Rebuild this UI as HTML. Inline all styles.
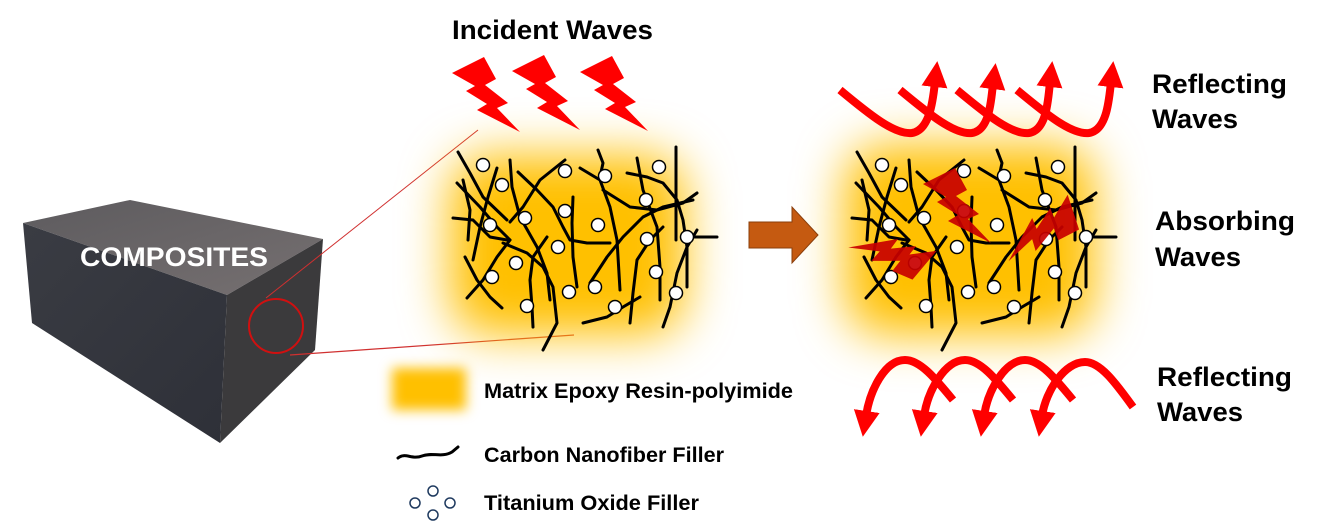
<!DOCTYPE html>
<html><head><meta charset="utf-8"><style>
html,body{margin:0;padding:0;background:#fff}
svg{display:block}
text{font-family:"Liberation Sans",Arial,sans-serif;font-weight:bold}
</style></head><body>
<svg width="1328" height="531" viewBox="0 0 1328 531" xmlns="http://www.w3.org/2000/svg">
<defs>
<filter id="blur" x="-50%" y="-50%" width="200%" height="200%"><feGaussianBlur stdDeviation="24"/></filter>
<filter id="blur2" x="-50%" y="-50%" width="200%" height="200%"><feGaussianBlur stdDeviation="6"/></filter>
<linearGradient id="top" x1="0" y1="0" x2="1" y2="1"><stop offset="0" stop-color="#5d5b5e"/><stop offset="1" stop-color="#767071"/></linearGradient>
<linearGradient id="front" x1="0" y1="0" x2="1" y2="1"><stop offset="0" stop-color="#3a3c43"/><stop offset="1" stop-color="#2e3038"/></linearGradient>
<marker id="ah" markerWidth="30" markerHeight="30" refX="5" refY="15" orient="auto" markerUnits="userSpaceOnUse" viewBox="0 0 30 30"><path d="M0,2 L26,15 L0,28 Z" fill="#f00"/></marker>
<g id="fib" fill="none" stroke="#000" stroke-width="3" stroke-linecap="round" stroke-linejoin="round">
<polyline points="458,152 470,173 483,197 507,220"/>
<polyline points="457,183 480,207 497,227 510,240"/>
<polyline points="497,168 488,197 480,227 473,260"/>
<polyline points="453,218 473,220 490,237 507,240"/>
<polyline points="465,257 477,280 490,297 502,308"/>
<polyline points="467,298 483,280 497,257 510,240"/>
<polyline points="510,160 512,187 520,217 537,247 547,273 550,300"/>
<polyline points="518,172 537,190 553,207 563,227 570,240 587,243 610,243"/>
<polyline points="565,160 540,180 523,207 510,222"/>
<polyline points="573,197 572,223 573,257 577,287"/>
<polyline points="503,243 527,253 543,267 553,287 557,323 543,350"/>
<polyline points="547,237 533,257 530,280 532,307 533,327"/>
<polyline points="580,168 600,180 610,207 617,240 620,290"/>
<polyline points="598,150 603,163 600,177"/>
<polyline points="603,190 630,207 657,210 683,203 697,193"/>
<polyline points="590,283 607,257 623,237 643,217 663,207 693,200"/>
<polyline points="637,158 643,190 657,227 660,267 660,300"/>
<polyline points="627,173 647,177 663,183 677,200 683,220 687,247 687,287"/>
<polyline points="676,147 676,240"/>
<polyline points="583,323 607,317 623,307 640,297"/>
<polyline points="630,323 633,293 637,260 650,240 663,227"/>
<polyline points="663,327 670,307 677,273 687,247 697,230"/>
<polyline points="687,237 717,237"/>
<polyline points="463,180 470,210 468,240"/>
</g>
<g id="dots" fill="#fff" stroke="#000" stroke-width="1.5">
<circle cx="483" cy="165" r="6.5"/><circle cx="502" cy="185" r="6.5"/><circle cx="490" cy="225" r="6.5"/>
<circle cx="525" cy="218" r="6.5"/><circle cx="565" cy="171" r="6.5"/><circle cx="565" cy="211" r="6.5"/>
<circle cx="598" cy="225" r="6.5"/><circle cx="558" cy="247" r="6.5"/><circle cx="516" cy="263" r="6.5"/>
<circle cx="492" cy="277" r="6.5"/><circle cx="527" cy="306" r="6.5"/><circle cx="569" cy="292" r="6.5"/>
<circle cx="595" cy="287" r="6.5"/><circle cx="615" cy="307" r="6.5"/><circle cx="605" cy="176" r="6.5"/>
<circle cx="646" cy="200" r="6.5"/><circle cx="647" cy="239" r="6.5"/><circle cx="659" cy="167" r="6.5"/>
<circle cx="656" cy="272" r="6.5"/><circle cx="687" cy="237" r="6.5"/><circle cx="676" cy="293" r="6.5"/>
</g>
<path id="bolt" d="M0,16 L32,0 L44,22 L33,28 L56,46 L45,51 L68,75 L25,53 L35,47 L14,34 L23,29 Z"/>
</defs>

<!-- box -->
<polygon points="23,223 130,200 323,239 227,295" fill="url(#top)"/>
<polygon points="23,223 227,295 220,443 32,323" fill="url(#front)"/>
<polygon points="227,295 323,239 315,350 220,443" fill="#3b3a3c"/>
<text x="80" y="266" font-size="27" fill="#fff" textLength="188" lengthAdjust="spacingAndGlyphs">COMPOSITES</text>
<circle cx="276" cy="326" r="27" fill="none" stroke="#d01010" stroke-width="2"/>
<line x1="266" y1="298" x2="478" y2="130" stroke="#d03030" stroke-width="1"/>
<line x1="290" y1="355" x2="574" y2="335" stroke="#d03030" stroke-width="1.2"/>

<!-- glows -->
<rect x="450" y="155" width="235" height="180" rx="40" fill="#ffc000" filter="url(#blur)"/>
<rect x="845" y="145" width="250" height="190" rx="40" fill="#ffc000" filter="url(#blur)"/>

<use href="#fib"/><use href="#dots"/>
<g transform="translate(399,0)"><use href="#fib"/><use href="#dots"/></g>

<!-- incident bolts -->
<g fill="#ff0000">
<use href="#bolt" transform="translate(452,57)"/>
<use href="#bolt" transform="translate(512,55)"/>
<use href="#bolt" transform="translate(580,56)"/>
</g>
<!-- absorbed bolts -->
<g fill="#c80000" opacity="0.92">
<use href="#bolt" transform="translate(923,168)"/>
<use href="#bolt" transform="translate(1082,196) rotate(95) scale(1.05,0.9)"/>
<use href="#bolt" transform="translate(943,262) rotate(150) scale(1.1,0.8)"/>
</g>

<!-- brown arrow -->
<polygon points="749,222 792,222 792,207 818,235 792,263 792,248 749,248" fill="#c55a11" stroke="#8a3f0c" stroke-width="1"/>

<!-- reflecting top -->
<g fill="none" stroke="#ff0000" stroke-width="8" marker-end="url(#ah)">
<path d="M840,90 C870,115 895,135 912,133 C930,130 933,100 935,82"/>
<path d="M900,90 C930,115 955,135 972,133 C990,130 991,100 993,84"/>
<path d="M957,90 C987,115 1012,135 1029,133 C1047,130 1048,100 1050,82"/>
<path d="M1017,90 C1047,115 1072,135 1089,133 C1107,130 1109,100 1111,82"/>
</g>
<!-- reflecting bottom -->
<g fill="none" stroke="#ff0000" stroke-width="8" marker-end="url(#ah)">
<path d="M953,400 C935,378 920,360 905,360 C885,360 870,390 866,416"/>
<path d="M1013,400 C995,378 980,360 965,360 C945,360 928,390 924,416"/>
<path d="M1073,400 C1055,378 1040,360 1025,360 C1005,360 988,390 984,416"/>
<path d="M1133,407 C1115,382 1100,362 1085,362 C1065,362 1046,390 1042,416"/>
</g>

<!-- labels -->
<g font-size="27" fill="#000">
<text x="452" y="39" textLength="201" lengthAdjust="spacingAndGlyphs">Incident Waves</text>
<text x="1152" y="93" textLength="135" lengthAdjust="spacingAndGlyphs">Reflecting</text>
<text x="1152" y="128" textLength="86" lengthAdjust="spacingAndGlyphs">Waves</text>
<text x="1155" y="230" textLength="140" lengthAdjust="spacingAndGlyphs">Absorbing</text>
<text x="1155" y="266" textLength="86" lengthAdjust="spacingAndGlyphs">Waves</text>
<text x="1157" y="386" textLength="135" lengthAdjust="spacingAndGlyphs">Reflecting</text>
<text x="1157" y="421" textLength="86" lengthAdjust="spacingAndGlyphs">Waves</text>
</g>

<!-- legend -->
<rect x="392" y="368" width="74" height="42" fill="#ffc000" filter="url(#blur2)"/>
<g font-size="21">
<text x="484" y="398" textLength="309" lengthAdjust="spacingAndGlyphs">Matrix Epoxy Resin-polyimide</text>
<text x="484" y="462" textLength="240" lengthAdjust="spacingAndGlyphs">Carbon Nanofiber Filler</text>
<text x="484" y="510" textLength="215" lengthAdjust="spacingAndGlyphs">Titanium Oxide Filler</text>
</g>
<path d="M398,458 C405,452 412,460 422,456 C432,452 442,458 452,452 L458,447" fill="none" stroke="#000" stroke-width="3" stroke-linecap="round"/>
<g fill="#fff" stroke="#1f3a5f" stroke-width="1.5">
<circle cx="433" cy="491" r="5"/><circle cx="415" cy="503" r="5"/><circle cx="450" cy="503" r="5"/><circle cx="433" cy="515" r="5"/>
</g>
</svg>
</body></html>
